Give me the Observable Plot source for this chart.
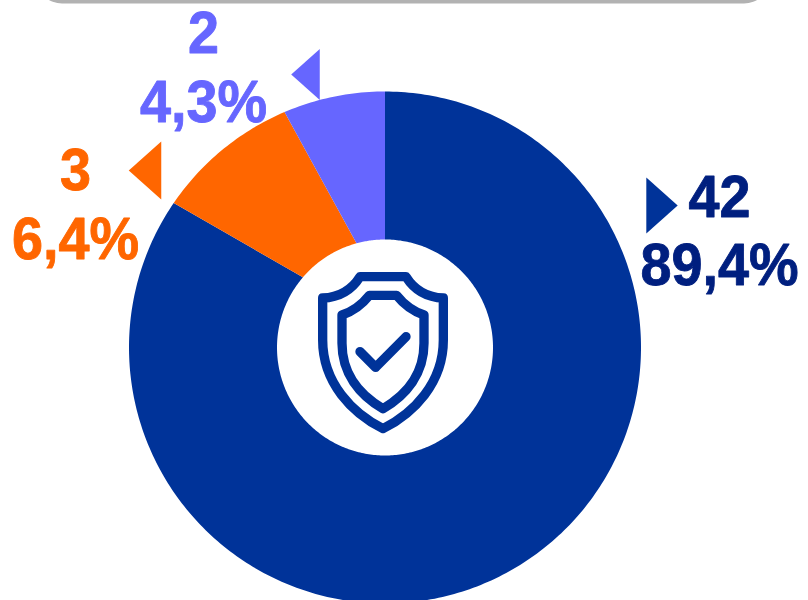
<!DOCTYPE html>
<html>
<head>
<meta charset="utf-8">
<style>
html,body{margin:0;padding:0;background:#fff;overflow:hidden}
svg{display:block}
</style>
<script src="https://cdn.jsdelivr.net/npm/d3@7"></script>
<script src="https://cdn.jsdelivr.net/npm/@observablehq/plot@0.6"></script>
</head>
<body>
<div id="chart"></div>
<script>
// Data
const categories = ["a", "b", "c"];
const counts = ["42", "3", "2"];
const percents = ["89,4%", "6,4%", "4,3%"];
// Drawn slice widths (share of the ring) at its outer and inner edge
const outerShares = [84.55, 9.03, 6.42];
const innerShares = [86.25, 9.5, 4.25];
const sliceColors = ["#003399", "#FF6600", "#6666FF"];
const textColors = ["#001F7F", "#FF6600", "#6666FF"];

// Layout
const W = 808, H = 600;
const center = {x: 384.5, y: 347}, outerR = 256, innerR = 108;
const countPos = [[719, 216], [75, 189], [203, 52]];
const percentPos = [[719, 284], [75, 258], [203, 121]];
const markerPos = [[661.5, 205], [144.5, 170], [305, 74]];
const markerR = [28, 29, 25.5];
const markerRotate = [0, 180, 180];
const fontSize = 59;
const textSqueeze = 0.945;

const cum = (a) => { let s = 0; return a.map(v => { const r = [s, s + v]; s += v; return r; }); };
const outerCum = cum(outerShares), innerCum = cum(innerShares);
const pt = (share, r) => {
  const t = share / 100 * 2 * Math.PI;
  return {x: center.x + r * Math.sin(t), y: center.y - r * Math.cos(t)};
};
const ringPoints = [];
categories.forEach((c, i) => {
  const [o0, o1] = outerCum[i], [i0, i1] = innerCum[i];
  const n = Math.ceil((o1 - o0) * 4);
  for (const t of d3.range(n + 1)) ringPoints.push({cat: c, ...pt(o0 + (o1 - o0) * t / n, outerR)});
  for (const t of d3.range(n + 1)) ringPoints.push({cat: c, ...pt(i1 + (i0 - i1) * t / n, innerR)});
});

const labels = categories.map((c, i) => ({
  cat: c, count: counts[i], percent: percents[i],
  cx: countPos[i][0], cy: countPos[i][1], px: percentPos[i][0], py: percentPos[i][1],
  mx: markerPos[i][0], my: markerPos[i][1], mr: markerR[i], rot: markerRotate[i], color: textColors[i]
}));

// Flat triangle pointing right; tip and base sit around the origin
const flag = {draw(ctx, size) {
  const r = Math.sqrt(size / Math.PI), d = r * 0.56;
  ctx.moveTo(-d, -r); ctx.lineTo(d, 0); ctx.lineTo(-d, r); ctx.closePath();
}};

// Shield icon, drawn at the ring centre
const shieldMark = (index, {x, y}) => {
  const g = d3.create("svg:g")
    .attr("transform", `translate(${x(center.x) - 104.5},${y(center.y) - 107}) scale(${1 / 3})`)
    .attr("fill", "none").attr("stroke", sliceColors[0]).attr("stroke-width", 28)
    .attr("stroke-linejoin", "round").attr("stroke-linecap", "round");
  g.append("path").attr("d", "M128 174C175 172 215 150 240 110H378C403 150 443 172 490 174V300C490 430 400 520 309 566C218 520 128 430 128 300Z");
  g.append("path").attr("d", "M186 225C215 215 245 195 268 166H350C373 195 403 215 432 225V310C432 400 380 465 309 506C238 465 186 400 186 310Z");
  g.append("path").attr("d", "M240 335L287 382L378 290");
  return g.node();
};

const textOpts = {
  textAnchor: "middle", lineAnchor: "bottom", fontSize, fontWeight: 700,
  fontFamily: "'Liberation Sans', sans-serif",
  fill: d => d.color, stroke: d => d.color, strokeWidth: 0.9, strokeLinejoin: "round"
};

const chart = Plot.plot({
  width: W, height: H,
  margin: 0,
  x: {domain: [0, W], range: [0, W], axis: null},
  y: {domain: [0, H], range: [0, H], axis: null},
  r: {type: "identity"},
  color: {type: "ordinal", domain: categories, range: sliceColors},
  marks: [
    Plot.rect([{x1: 38, x2: 768, y1: -40, y2: 3.5}], {x1: "x1", x2: "x2", y1: "y1", y2: "y2", fill: "#B2B2B2", rx: 24}),
    Plot.line(ringPoints, {x: "x", y: "y", z: "cat", fill: "cat", stroke: "none", curve: "linear"}),
    Plot.dot(labels, {x: "mx", y: "my", r: "mr", rotate: "rot", fill: "cat", stroke: "none", symbol: flag}),
    Plot.text(labels, {...textOpts, x: "cx", y: "cy", text: "count"}),
    Plot.text(labels, {...textOpts, x: "px", y: "py", text: "percent"}),
    shieldMark
  ]
});
// The labels in the picture are narrower than the font: squeeze them about their anchor
chart.querySelectorAll("text").forEach(t => {
  t.setAttribute("transform", `${t.getAttribute("transform") || ""} scale(${textSqueeze},1)`);
});
document.getElementById("chart").append(chart);
</script>
</body>
</html>
